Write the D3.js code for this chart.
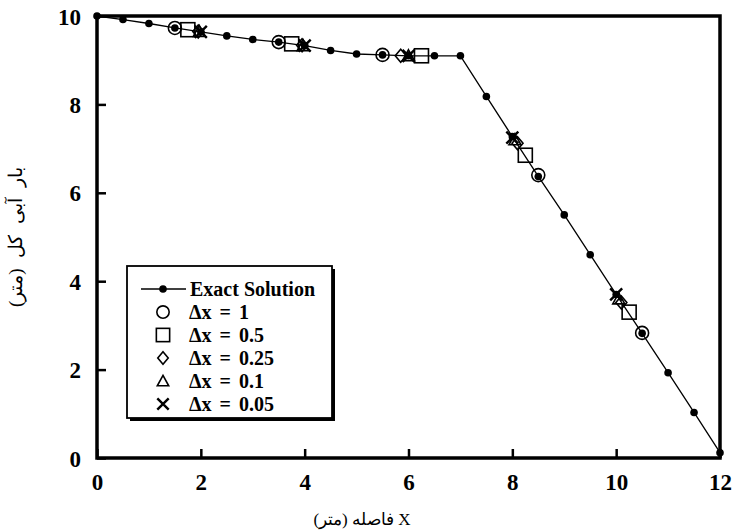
<!DOCTYPE html>
<html><head><meta charset="utf-8">
<script src="https://cdn.jsdelivr.net/npm/d3@7"></script>
<style>body{margin:0;background:#fff}svg{display:block}</style>
</head><body>
<script>
const xTicks=[0,2,4,6,8,10,12];
const yTicks=[0,2,4,6,8,10];
const exactX=[0,0.5,1,1.5,2,2.5,3,3.5,4,4.5,5,5.5,6,6.5,7,7.5,8,8.5,9,9.5,10,10.5,11,11.5,12];
const exactY=[10,9.92,9.83,9.73,9.64,9.55,9.47,9.41,9.33,9.22,9.14,9.12,9.1,9.1,9.1,8.18,7.27,6.37,5.5,4.6,3.7,2.82,1.93,1.03,0.12];
const dx1X=[1.5,3.5,5.5,8.5,10.5];
const dx1Y=[9.73,9.41,9.12,6.4,2.83];
const dx05X=[1.75,3.75,6.25,8.25,10.25];
const dx05Y=[9.69,9.37,9.1,6.85,3.3];
const dx025X=[1.95,3.95,5.85,8.1,10.1];
const dx025Y=[9.65,9.34,9.1,7.12,3.52];
const dx01X=[1.97,3.97,6.0,8.05,10.05];
const dx01Y=[9.65,9.33,9.1,7.2,3.6];
const dx005X=[2.0,4.0,6.0,8.0,10.0];
const dx005Y=[9.64,9.33,9.1,7.25,3.7];
const legendLabels=["Exact Solution","Δx = 1","Δx = 0.5","Δx = 0.25","Δx = 0.1","Δx = 0.05"];
const xTitle="X فاصله (متر)";
const yTitle="بار آبی کل (متر)";

const W=733,H=532;
const L=97,R=720,T=16,B=458;
const svg=d3.select("body").append("svg").attr("width",W).attr("height",H);
const x=d3.scaleLinear().domain([0,12]).range([L,R]);
const y=d3.scaleLinear().domain([0,10]).range([B,T]);
const font="'Liberation Serif','Times New Roman',serif";

const gx=svg.append("g").attr("transform",`translate(0,${B})`)
  .call(d3.axisBottom(x).tickValues(xTicks).tickSize(-9).tickPadding(16).tickFormat(d3.format("d")));
const gy=svg.append("g").attr("transform",`translate(${L},0)`)
  .call(d3.axisLeft(y).tickValues(yTicks).tickSize(-9).tickPadding(16).tickFormat(d3.format("d")));
[gx,gy].forEach(g=>{
  g.select(".domain").remove();
  g.selectAll(".tick line").attr("stroke","#000").attr("stroke-width",2.5);
  g.selectAll(".tick text").attr("font-family",font).attr("font-weight","bold").attr("font-size",23).attr("fill","#000");
});
gy.selectAll(".tick text").attr("dy","0.35em");
svg.append("rect").attr("x",L).attr("y",T).attr("width",R-L).attr("height",B-T)
  .attr("fill","none").attr("stroke","#000").attr("stroke-width",3.5);

const exact=exactX.map((v,i)=>[v,exactY[i]]);
svg.append("path").datum(exact).attr("fill","none").attr("stroke","#000").attr("stroke-width",1.3)
  .attr("d",d3.line().x(d=>x(d[0])).y(d=>y(d[1])));
svg.append("g").selectAll("circle").data(exact).join("circle")
  .attr("cx",d=>x(d[0])).attr("cy",d=>y(d[1])).attr("r",3.8).attr("fill","#000");

function marker(g,type,cx,cy,s){
  const st={fill:"none",stroke:"#000","stroke-width":1.6};
  let el;
  if(type==="circle") el=g.append("circle").attr("cx",cx).attr("cy",cy).attr("r",6.5*s);
  else if(type==="square") el=g.append("rect").attr("x",cx-7*s).attr("y",cy-7*s).attr("width",14*s).attr("height",14*s);
  else if(type==="diamond") el=g.append("path").attr("d",`M${cx},${cy-6.5*s}L${cx+5.5*s},${cy}L${cx},${cy+6.5*s}L${cx-5.5*s},${cy}Z`);
  else if(type==="triangle") el=g.append("path").attr("d",`M${cx},${cy-6*s}L${cx+6*s},${cy+5*s}L${cx-6*s},${cy+5*s}Z`);
  else if(type==="cross"){ el=g.append("path").attr("d",`M${cx-6*s},${cy-6*s}L${cx+6*s},${cy+6*s}M${cx+6*s},${cy-6*s}L${cx-6*s},${cy+6*s}`); st["stroke-width"]=2.4;}
  Object.entries(st).forEach(([k,v])=>el.attr(k,v));
}
const series=[["circle",dx1X,dx1Y],["square",dx05X,dx05Y],["diamond",dx025X,dx025Y],["triangle",dx01X,dx01Y],["cross",dx005X,dx005Y]];
const mg=svg.append("g");
series.forEach(([t,xs,ys])=>xs.forEach((v,i)=>marker(mg,t,x(v),y(ys[i]),1)));

const lg=svg.append("g");
lg.append("rect").attr("x",130).attr("y",269).attr("width",205).attr("height",152).attr("fill","#000");
lg.append("rect").attr("x",127).attr("y",266).attr("width",205).attr("height",152).attr("fill","#fff").attr("stroke","#000").attr("stroke-width",1.8);
legendLabels.forEach((lab,i)=>{
  const yy=289+i*23;
  if(i===0){
    lg.append("line").attr("x1",141).attr("x2",186).attr("y1",yy).attr("y2",yy).attr("stroke","#000").attr("stroke-width",1.5);
    lg.append("circle").attr("cx",163).attr("cy",yy).attr("r",3.8).attr("fill","#000");
  } else marker(lg,series[i-1][0],163,yy,0.95);
  lg.append("text").attr("x",i===0?190:189).attr("y",yy).attr("dy","0.35em").text(lab)
    .attr("font-family",font).attr("font-weight","bold").attr("font-size",20)
    .attr("word-spacing",i===0?0:3);
});

svg.append("text").attr("x",362).attr("y",525).attr("text-anchor","middle").attr("direction","rtl")
  .attr("font-family",font).attr("font-size",17).text(xTitle);
svg.append("text").attr("transform","translate(22,237) rotate(-90)").attr("text-anchor","middle").attr("direction","rtl")
  .attr("font-family",font).attr("font-size",19).attr("word-spacing",6).text(yTitle);
</script>
</body></html>
